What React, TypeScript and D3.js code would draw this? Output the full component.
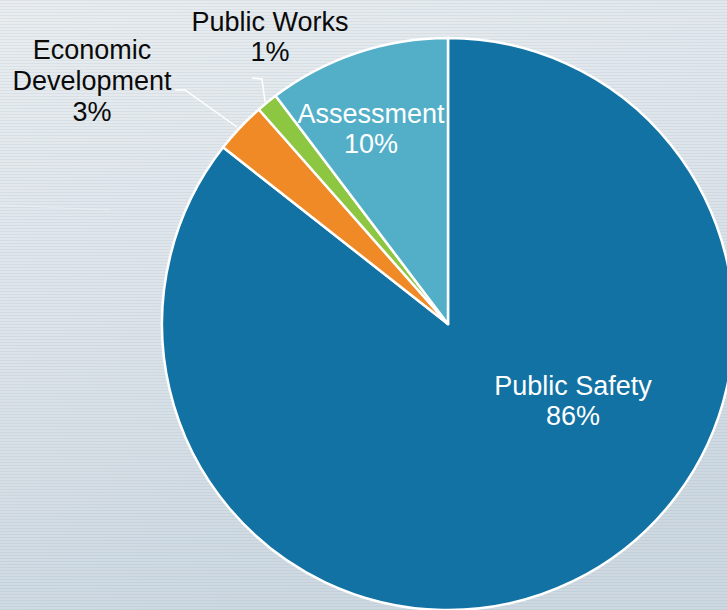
import React from "react";
import * as d3 from "d3";

const categories = ["Public Safety", "Economic Development", "Public Works", "Assessment"];
const values = [85.6, 2.9, 1.2, 10.3];
const colors = ["#1272a4", "#f08a26", "#8dc641", "#53afc8"];

const W = 727;
const H = 610;
const CX = 448;
const CY = 324;
const R = 286;

export default function App() {
  const data = categories.map((c, i) => ({ name: c, value: values[i], color: colors[i] }));
  const total = d3.sum(values);
  const pie = d3.pie<any>().sort(null).value((d: any) => d.value).startAngle(0).endAngle(2 * Math.PI);
  const arcs = pie(data);
  const arc = d3.arc<any>().innerRadius(0).outerRadius(R);
  const pct = (v: number) => Math.round((v / total) * 100) + "%";

  const stripeYs = d3.range(0, H, 3);

  const labelStyle = {
    fontFamily: "'Liberation Sans', Arial, sans-serif",
    fontSize: 27,
    textAnchor: "middle" as const,
  };

  return (
    <svg width={W} height={H} style={{ position: "absolute", left: 0, top: 0 }}>
      <defs>
        <linearGradient id="bg" x1="0" y1="0" x2="0.3" y2="1">
          <stop offset="0" stopColor="#e9edf0" />
          <stop offset="0.5" stopColor="#dde4ea" />
          <stop offset="1" stopColor="#cdd8e1" />
        </linearGradient>
      </defs>
      <rect x={0} y={0} width={W} height={H} fill="url(#bg)" />
      <g>
        {stripeYs.map((y) => (
          <rect key={y} x={0} y={y} width={W} height={1} fill="#6a85a0" opacity={0.1} />
        ))}
      </g>
      <g stroke="#ffffff" strokeOpacity={0.35} strokeWidth={1.2}>
        <line x1={640} y1={330} x2={727} y2={372} />
        <line x1={0} y1={205} x2={110} y2={210} />
      </g>
      <g transform={`translate(${CX},${CY})`}>
        {arcs.map((a, i) => (
          <path key={i} d={arc(a) as string} fill={a.data.color} stroke="#ffffff" strokeWidth={2.5} strokeLinejoin="round" />
        ))}
      </g>
      <g fill="none" stroke="#ffffff" strokeWidth={1.5}>
        <polyline points="175,90 185,90 237,127" />
        <polyline points="252,78 262,79 265,102" />
      </g>
      <text {...labelStyle} fill="#ffffff">
        <tspan x={573} y={395}>{categories[0]}</tspan>
        <tspan x={573} y={425}>{pct(values[0])}</tspan>
      </text>
      <text {...labelStyle} fill="#ffffff">
        <tspan x={371} y={123}>{categories[3]}</tspan>
        <tspan x={371} y={153}>{pct(values[3])}</tspan>
      </text>
      <text {...labelStyle} fill="#0a0a0a">
        <tspan x={92} y={59}>Economic</tspan>
        <tspan x={92} y={90}>Development</tspan>
        <tspan x={92} y={121}>{pct(values[1])}</tspan>
      </text>
      <text {...labelStyle} fill="#0a0a0a">
        <tspan x={270} y={31}>{categories[2]}</tspan>
        <tspan x={270} y={61}>{pct(values[2])}</tspan>
      </text>
    </svg>
  );
}
